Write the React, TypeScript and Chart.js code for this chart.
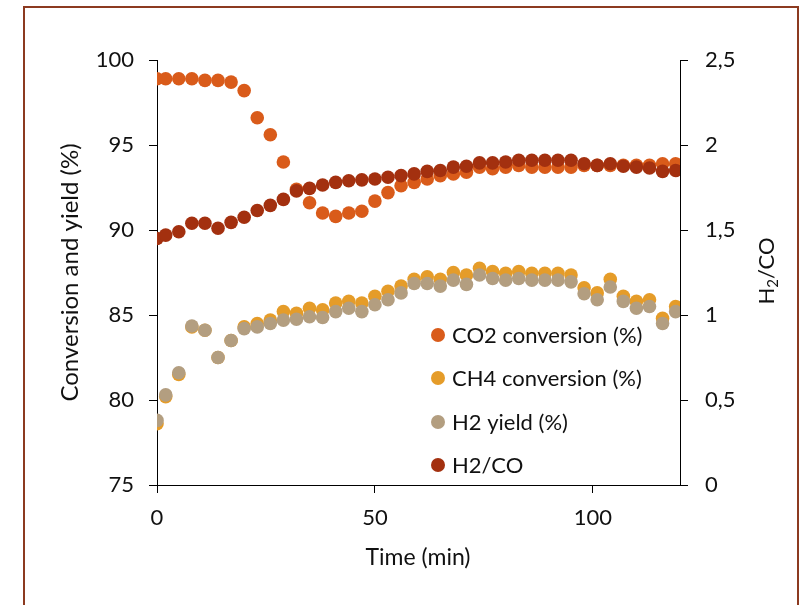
import React, { useEffect, useRef } from 'react';
import { Chart, registerables } from 'chart.js';

Chart.register(...registerables);

// Time (min)
const times = [0, 2, 5, 8, 11, 14, 17, 20, 23, 26, 29, 32, 35, 38, 41, 44, 47, 50, 53, 56, 59, 62, 65, 68, 71, 74, 77, 80, 83, 86, 89, 92, 95, 98, 101, 104, 107, 110, 113, 116, 119];

// CO2 conversion (%)
const co2 = [98.9, 98.9, 98.9, 98.9, 98.8, 98.8, 98.7, 98.2, 96.6, 95.6, 94.0, 92.4, 91.6, 91.0, 90.8, 91.0, 91.1, 91.7, 92.2, 92.6, 92.8, 93.0, 93.2, 93.3, 93.4, 93.7, 93.6, 93.7, 93.8, 93.7, 93.7, 93.7, 93.7, 93.8, 93.8, 93.8, 93.8, 93.8, 93.8, 93.9, 93.9];

// CH4 conversion (%)
const ch4 = [78.6, 80.2, 81.5, 84.3, 84.1, 82.5, 83.5, 84.3, 84.5, 84.7, 85.2, 85.1, 85.4, 85.3, 85.7, 85.8, 85.7, 86.1, 86.4, 86.7, 87.1, 87.25, 87.1, 87.5, 87.35, 87.75, 87.55, 87.45, 87.55, 87.45, 87.45, 87.45, 87.35, 86.6, 86.3, 87.1, 86.1, 85.8, 85.9, 84.8, 85.5];

// H2 yield (%)
const h2Yield = [78.8, 80.3, 81.6, 84.35, 84.1, 82.5, 83.5, 84.2, 84.3, 84.5, 84.7, 84.75, 84.9, 84.85, 85.2, 85.4, 85.2, 85.6, 85.9, 86.3, 86.85, 86.85, 86.7, 87.05, 86.8, 87.35, 87.15, 87.05, 87.15, 87.05, 87.05, 87.05, 86.95, 86.25, 85.9, 86.65, 85.8, 85.4, 85.5, 84.5, 85.2];

// H2/CO ratio (right axis)
const h2co = [1.45, 1.47, 1.49, 1.54, 1.54, 1.51, 1.545, 1.575, 1.615, 1.645, 1.68, 1.73, 1.745, 1.765, 1.78, 1.79, 1.795, 1.8, 1.81, 1.82, 1.83, 1.845, 1.85, 1.87, 1.875, 1.895, 1.895, 1.9, 1.91, 1.91, 1.91, 1.91, 1.91, 1.89, 1.88, 1.89, 1.875, 1.87, 1.865, 1.845, 1.85];

const seriesLabels = ['CO2 conversion (%)', 'CH4 conversion (%)', 'H2 yield (%)', 'H2/CO'];
const seriesColors = ['#D95B1A', '#E59C29', '#B39E80', '#A3300F'];

const xTitle = 'Time (min)';
const yTitle = 'Conversion and yield (%)';

const FONT = 'Lato, "Liberation Sans", sans-serif';
const TEXT = '#111111';

const toPoints = (ys: number[]) => times.map((t, i) => ({ x: t, y: ys[i] }));

const extrasPlugin = {
  id: 'extras',
  beforeDraw(chart: any) {
    const { ctx, width, height } = chart;
    ctx.save();
    ctx.fillStyle = '#ffffff';
    ctx.fillRect(0, 0, width, height);
    ctx.strokeStyle = '#8C3A20';
    ctx.lineWidth = 2;
    ctx.strokeRect(24, 7, 774, height + 20);
    ctx.restore();
  },
  afterDraw(chart: any) {
    const { ctx } = chart;
    ctx.save();
    // legend
    const legendX = 438;
    const legendY = [335, 378, 422, 465];
    ctx.font = `22px ${FONT}`;
    ctx.textBaseline = 'middle';
    ctx.textAlign = 'left';
    seriesLabels.forEach((label, i) => {
      ctx.beginPath();
      ctx.fillStyle = seriesColors[i];
      ctx.arc(legendX, legendY[i], 7, 0, Math.PI * 2);
      ctx.fill();
      ctx.fillStyle = TEXT;
      ctx.fillText(label, legendX + 14, legendY[i] + 1);
    });
    // x axis title, centred a little left of the plot centre as in the source
    ctx.font = `23px ${FONT}`;
    ctx.textAlign = 'center';
    ctx.textBaseline = 'middle';
    ctx.fillText(xTitle, 418, 558);
    // right axis title H2/CO with subscript
    const cx = 766;
    const cy = 271;
    ctx.translate(cx, cy);
    ctx.rotate(-Math.PI / 2);
    const big = `22px ${FONT}`;
    const small = `15px ${FONT}`;
    ctx.textAlign = 'left';
    ctx.font = big;
    const wH = ctx.measureText('H').width;
    const wRest = ctx.measureText('/CO').width;
    ctx.font = small;
    const w2 = ctx.measureText('2').width;
    const total = wH + w2 + wRest;
    let x = -total / 2;
    ctx.fillStyle = TEXT;
    ctx.textBaseline = 'alphabetic';
    ctx.font = big;
    ctx.fillText('H', x, 8);
    x += wH;
    ctx.font = small;
    ctx.fillText('2', x, 12);
    x += w2;
    ctx.font = big;
    ctx.fillText('/CO', x, 8);
    ctx.restore();
  },
};

export default function App() {
  const canvasRef = useRef<HTMLCanvasElement | null>(null);

  useEffect(() => {
    if (!canvasRef.current) return;
    const tickFont = { family: FONT, size: 22 };
    const chart = new Chart(canvasRef.current, {
      type: 'scatter',
      data: {
        datasets: [
          { label: seriesLabels[0], data: toPoints(co2), backgroundColor: seriesColors[0], yAxisID: 'y', order: 3 },
          { label: seriesLabels[1], data: toPoints(ch4), backgroundColor: seriesColors[1], yAxisID: 'y', order: 2 },
          { label: seriesLabels[2], data: toPoints(h2Yield), backgroundColor: seriesColors[2], yAxisID: 'y', order: 1 },
          { label: seriesLabels[3], data: toPoints(h2co), backgroundColor: seriesColors[3], yAxisID: 'y2', order: 0 },
        ].map((d) => ({ ...d, pointRadius: 6.8, pointHoverRadius: 6.8, borderWidth: 0, pointBorderWidth: 0 })),
      },
      options: {
        responsive: false,
        animation: false,
        layout: { padding: { top: 60, left: 0, right: 0, bottom: 0 } },
        plugins: { legend: { display: false }, tooltip: { enabled: false } },
        scales: {
          x: {
            type: 'linear',
            position: 'bottom',
            min: 0,
            max: 120,
            ticks: { stepSize: 50, font: tickFont, color: TEXT, padding: 12, maxRotation: 0 },
            grid: { drawOnChartArea: false, drawTicks: true, tickLength: 8, color: '#000' },
            border: { display: true, color: '#000', width: 1 },
            title: { display: false, text: xTitle },
            afterBuildTicks: (s: any) => {
              s.ticks = s.ticks.filter((t: any) => t.value % 50 === 0);
            },
            afterFit: (s: any) => {
              s.height = 120;
            },
          },
          y: {
            type: 'linear',
            position: 'left',
            min: 75,
            max: 100,
            ticks: { stepSize: 5, font: tickFont, color: TEXT, padding: 15 },
            grid: { drawOnChartArea: false, drawTicks: true, tickLength: 8, color: '#000' },
            border: { display: true, color: '#000', width: 1 },
            title: { display: true, text: yTitle, font: { family: FONT, size: 24 }, color: TEXT, padding: { top: 56, bottom: 0 } },
            afterFit: (s: any) => {
              s.width = 157;
            },
          },
          y2: {
            type: 'linear',
            position: 'right',
            min: 0,
            max: 2.5,
            ticks: {
              stepSize: 0.5,
              font: tickFont,
              color: TEXT,
              padding: 17,
              callback: (v: any) => String(Math.round(Number(v) * 10) / 10).replace('.', ','),
            },
            grid: { drawOnChartArea: false, drawTicks: true, tickLength: 8, color: '#000' },
            border: { display: true, color: '#000', width: 1 },
            afterFit: (s: any) => {
              s.width = 120;
            },
          },
        },
      },
      plugins: [extrasPlugin],
    } as any);
    return () => chart.destroy();
  }, []);

  return (
    <div style={{ position: 'absolute', left: 0, top: 0, width: 800, height: 605, overflow: 'hidden' }}>
      <canvas ref={canvasRef} width={800} height={605} style={{ display: 'block' }} />
    </div>
  );
}
